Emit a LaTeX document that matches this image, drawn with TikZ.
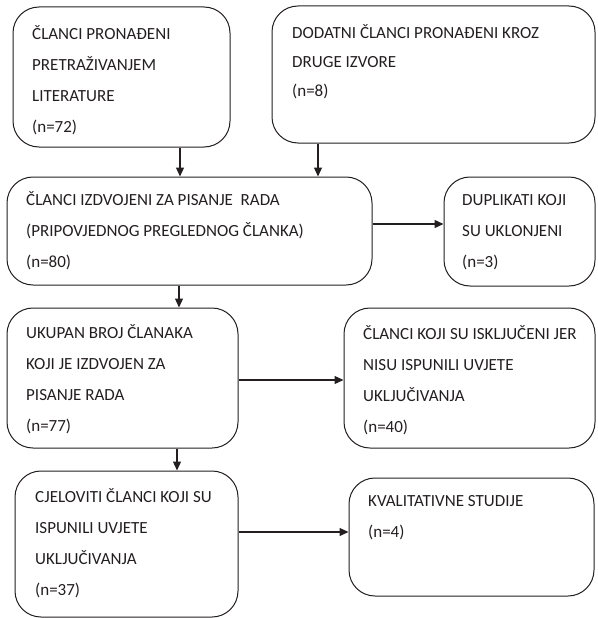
\documentclass[tikz,border=0pt]{standalone}
\usepackage{fontspec}
\setmainfont{Carlito}
\usetikzlibrary{arrows.meta}
\definecolor{ink}{RGB}{35, 31, 32}

\begin{document}
\begin{tikzpicture}[x=1pt, y=-1pt,
  box/.style={draw=ink, line width=1pt, rounded corners=26pt, inner sep=0pt},
  txt/.style={anchor=base west, align=left, inner sep=0pt, text=ink,
    font=\fontsize{17}{31}\selectfont},
  arr/.style={draw=ink, line width=1.3pt, -{Triangle[length=9pt, width=8pt]}}]
  \useasboundingbox (0, 0) rectangle (597, 618);

  % Top row (text nodes sit on the baseline of their last line)
  \node [box, minimum width=217pt, minimum height=140pt] (found) at (121.5, 77) {};
  \node [txt] (foundtxt) at (32, 132)
    {ČLANCI PRONAĐENI\\PRETRAŽIVANJEM\\LITERATURE\\(n=72)};

  \node [box, minimum width=323pt, minimum height=137pt] (extra) at (433.5, 74.5) {};
  \node [txt, font=\fontsize{17}{29}\selectfont] (extratxt) at (292, 96)
    {DODATNI ČLANCI PRONAĐENI KROZ\\DRUGE IZVORE\\(n=8)};

  % Second row
  \node [box, minimum width=365pt, minimum height=108pt] (picked) at (189.5, 231) {};
  \node [txt] (pickedtxt) at (26, 267.5)
    {ČLANCI IZDVOJENI ZA PISANJE~~RADA\\(PRIPOVJEDNOG PREGLEDNOG ČLANKA)\\(n=80)};

  \node [box, minimum width=151pt, minimum height=109pt] (dupes) at (519.5, 231.5) {};
  \node [txt] (dupestxt) at (462, 267.5)
    {DUPLIKATI KOJI\\SU UKLONJENI\\(n=3)};

  % Third row
  \node [box, minimum width=231pt, minimum height=140pt] (total) at (122.5, 378) {};
  \node [txt] (totaltxt) at (26, 431)
    {UKUPAN BROJ ČLANAKA\\KOJI JE IZDVOJEN ZA\\PISANJE RADA\\(n=77)};

  \node [box, minimum width=251pt, minimum height=140pt] (excl) at (469.5, 378) {};
  \node [txt] (excltxt) at (363, 432)
    {ČLANCI KOJI SU ISKLJUČENI JER\\NISU ISPUNILI UVJETE\\UKLJUČIVANJA\\(n=40)};

  % Fourth row
  \node [box, minimum width=223pt, minimum height=146pt] (full) at (126.5, 544) {};
  \node [txt] (fulltxt) at (35, 595.5)
    {CJELOVITI ČLANCI KOJI SU\\ISPUNILI UVJETE\\UKLJUČIVANJA\\(n=37)};

  \node [box, minimum width=245pt, minimum height=118pt] (qual) at (471.5, 537) {};
  \node [txt] (qualtxt) at (368, 537.5)
    {KVALITATIVNE STUDIJE\\(n=4)};

  % Arrows
  \draw [arr] ([xshift=58.5pt]found.south) -- ([xshift=58.5pt]found.south |- picked.north);
  \draw [arr] ([xshift=-115.5pt]extra.south) -- ([xshift=-115.5pt]extra.south |- picked.north);
  \draw [arr] ([yshift=7pt]picked.east) -- ([yshift=7pt]picked.east -| dupes.west);
  \draw [arr] ([xshift=-10.5pt]picked.south) -- ([xshift=-10.5pt]picked.south |- total.north);
  \draw [arr] ([yshift=-2pt]total.east) -- ([yshift=-2pt]total.east -| excl.west);
  \draw [arr] ([xshift=54.5pt]total.south) -- ([xshift=54.5pt]total.south |- full.north);
  \draw [arr] ([yshift=12pt]full.east) -- ([yshift=12pt]full.east -| qual.west);
\end{tikzpicture}
\end{document}
